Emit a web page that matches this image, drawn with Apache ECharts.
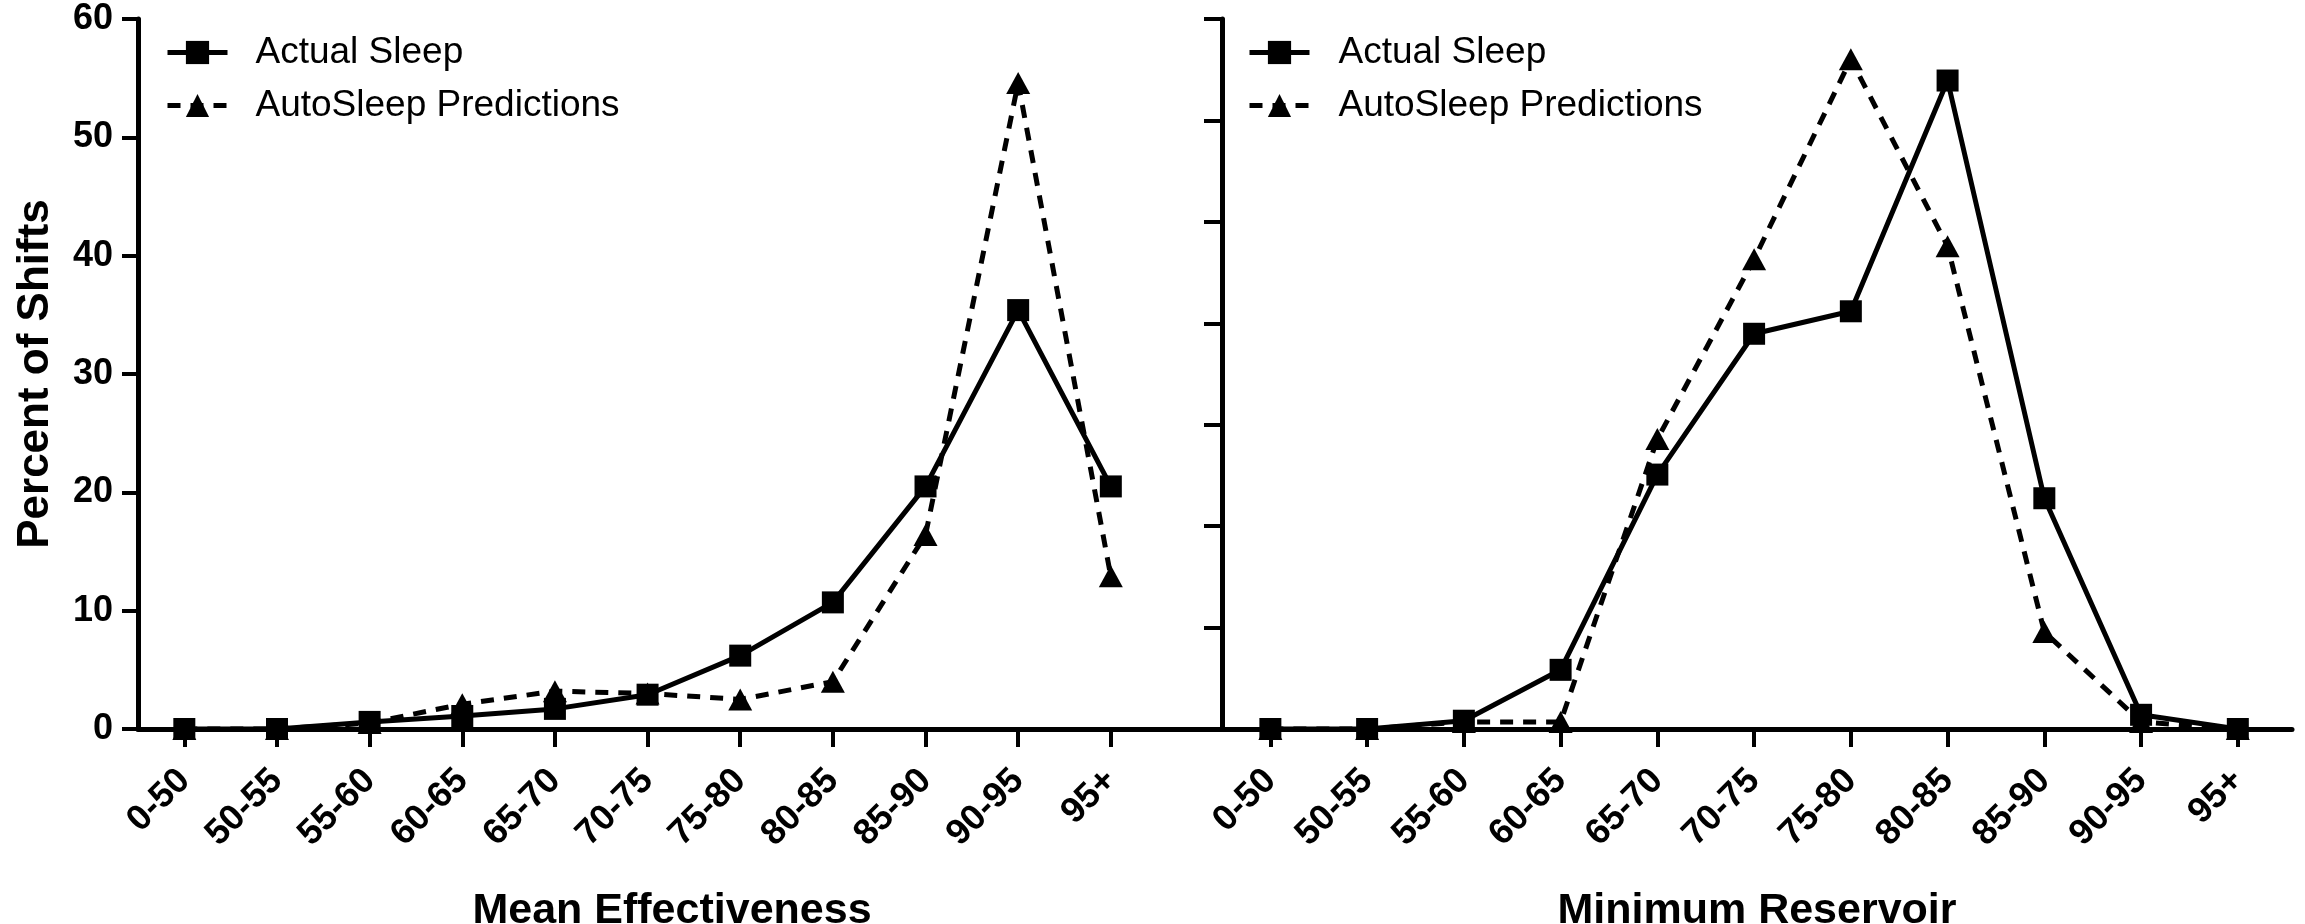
<!DOCTYPE html>
<html>
<head>
<meta charset="utf-8">
<script src="https://cdn.jsdelivr.net/npm/echarts@6/dist/echarts.min.js"></script>
<style>
  html, body { margin: 0; padding: 0; background: #fff; }
  #chart { width: 2305px; height: 924px; }
</style>
</head>
<body>
<div id="chart"></div>
<script>
// Score bins shared by both panels
const categories = ['0-50', '50-55', '55-60', '60-65', '65-70', '70-75', '75-80', '80-85', '85-90', '90-95', '95+'];

// Percent of shifts per Mean Effectiveness bin
const actualMeanEff = [0, 0, 0.6, 1.1, 1.7, 2.9, 6.2, 10.7, 20.5, 35.4, 20.5];
const autoMeanEff   = [0, 0, 0.5, 2.1, 3.2, 3.0, 2.5, 4.0, 16.4, 54.6, 12.9];

// Percent of shifts per Minimum Reservoir bin
const actualMinRes = [0, 0, 0.7, 5.0, 21.5, 33.4, 35.3, 54.8, 19.5, 1.2, 0];
const autoMinRes   = [0, 0, 0.6, 0.6, 24.5, 39.7, 56.6, 40.8, 8.2, 0.6, 0];

const yTicksLeft = [0, 10, 20, 30, 40, 50, 60];
const seriesNames = ['Actual Sleep', 'AutoSleep Predictions'];

const FONT = "'Liberation Sans', Arial, Helvetica, sans-serif";
const binIndex = categories.map((c, i) => i);
const toPoints = arr => arr.map((v, i) => [i, v]);

function binAxis(gridIndex, max, name, namePad) {
  return {
    type: 'value',
    gridIndex: gridIndex,
    min: -0.5,
    max: max,
    splitLine: { show: false },
    axisLine: { show: true, onZero: false, lineStyle: { color: '#000', width: 5 } },
    axisTick: { show: true, inside: false, length: 18, customValues: binIndex,
                lineStyle: { color: '#000', width: 4 } },
    axisLabel: {
      customValues: binIndex,
      rotate: 45,
      margin: 46,
      formatter: v => categories[v] !== undefined ? categories[v] : '',
      color: '#000', fontFamily: FONT, fontSize: 36, fontWeight: 'bold'
    },
    name: name,
    nameLocation: 'middle',
    nameGap: 161,
    nameTextStyle: { color: '#000', fontFamily: FONT, fontSize: 43, fontWeight: 'bold',
                     padding: namePad }
  };
}

function lineSeries(name, data, xi, dashed) {
  return {
    type: 'line',
    name: name,
    xAxisIndex: xi,
    yAxisIndex: xi,
    data: toPoints(data),
    clip: false,
    symbol: dashed ? 'triangle' : 'rect',
    symbolSize: dashed ? [24, 22] : 22,
    showSymbol: true,
    itemStyle: { color: '#000' },
    lineStyle: dashed ? { color: '#000', width: 5, type: [13, 10] }
                      : { color: '#000', width: 5, type: 'solid' },
    emphasis: { disabled: true },
    z: dashed ? 3 : 2
  };
}

function legendAt(left, textPad) {
  return {
    show: true,
    data: seriesNames,
    orient: 'vertical',
    left: left,
    top: 34,
    padding: 0,
    itemGap: 16,
    itemWidth: 60,
    itemHeight: 29,
    selectedMode: false,
    lineStyle: { width: 5 },
    textStyle: { color: '#000', fontFamily: FONT, fontSize: 37, lineHeight: 37,
                 padding: [0, 0, 0, textPad] }
  };
}

const chart = echarts.init(document.getElementById('chart'), null, { renderer: 'canvas' });

chart.setOption({
  animation: false,
  backgroundColor: '#fff',
  grid: [
    { left: 138, top: 19, width: 1084, height: 710, containLabel: false, outerBoundsMode: 'none' },
    { left: 1222, top: 19, width: 1070, height: 710, containLabel: false, outerBoundsMode: 'none' }
  ],
  legend: [legendAt(165, 23), legendAt(1247, 24)],
  xAxis: [
    binAxis(0, 11.2, 'Mean Effectiveness', [0, 16, 0, 0]),
    binAxis(1, 10.56, 'Minimum Reservoir', [0, 0, 0, 0])
  ],
  yAxis: [
    {
      type: 'value', gridIndex: 0, min: yTicksLeft[0], max: yTicksLeft[yTicksLeft.length - 1], interval: 10,
      splitLine: { show: false },
      axisLine: { show: true, onZero: false, lineStyle: { color: '#000', width: 5 } },
      axisTick: { show: true, length: 16, lineStyle: { color: '#000', width: 4 } },
      axisLabel: { color: '#000', fontFamily: FONT, fontSize: 36, fontWeight: 'bold', margin: 25 },
      name: 'Percent of Shifts',
      nameLocation: 'middle',
      nameGap: 80,
      nameTextStyle: { color: '#000', fontFamily: FONT, fontSize: 44, fontWeight: 'bold' }
    },
    {
      type: 'value', gridIndex: 1, min: 0, max: 60, interval: 60 / 7,
      splitLine: { show: false },
      axisLine: { show: true, onZero: false, lineStyle: { color: '#000', width: 5 } },
      axisTick: { show: true, length: 18, lineStyle: { color: '#000', width: 4 } },
      axisLabel: { show: false }
    }
  ],
  series: [
    lineSeries(seriesNames[0], actualMeanEff, 0, false),
    lineSeries(seriesNames[1], autoMeanEff, 0, true),
    lineSeries(seriesNames[0], actualMinRes, 1, false),
    lineSeries(seriesNames[1], autoMinRes, 1, true)
  ]
});
</script>
</body>
</html>
